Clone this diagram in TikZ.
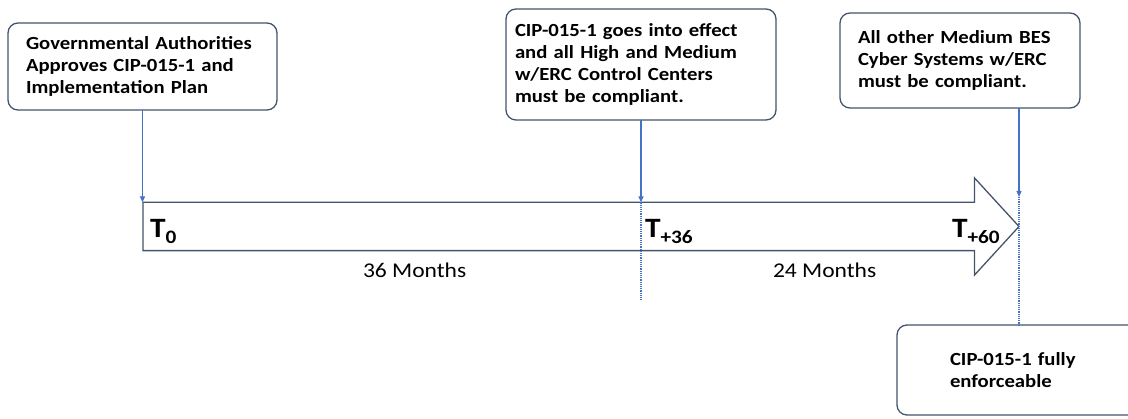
\documentclass[tikz,border=0pt]{standalone}
\usepackage{fontspec}
\setmainfont{Carlito}[FakeStretch=1.12]
\usepackage{tikz}
\usetikzlibrary{shapes,arrows.meta,positioning,calc}

\definecolor{boxline}{HTML}{44546A}
\definecolor{linkblue}{HTML}{4472C4}
\newcommand{\tmark}[1]{T\raisebox{-6pt}{\fontsize{19}{20}\selectfont #1}}

\begin{document}
\begin{tikzpicture}[x=1pt, y=-1pt, outer sep=0pt,
    event/.style={rectangle, rounded corners=10pt, draw=boxline, line width=1.3pt, align=left, anchor=west, font=\fontsize{18.5}{22}\selectfont\bfseries},
    link/.style={draw=linkblue, line width=1.2pt, -{Triangle[length=6pt,width=5pt]}},
    extend/.style={draw=linkblue, line width=1.2pt, densely dotted},
    tlabel/.style={anchor=base west, inner sep=0pt, font=\fontsize{28}{30}\selectfont\bfseries},
    span/.style={anchor=base west, inner sep=0pt, font=\fontsize{21}{24}\selectfont}]
        \useasboundingbox (0,0) rectangle (1128,419);

        \node (gov) [event, text width=233pt, inner xsep=18pt, minimum height=87pt] at (8,66.5) {Governmental Authorities\\Approves CIP-015-1 and\\Implementation Plan};
        \node (effect) [event, text width=252pt, inner xsep=9pt, minimum height=111pt] at (506,64.5) {CIP-015-1 goes into effect\\and all High and Medium\\w/ERC Control Centers\\must be compliant.};
        \node (other) [event, text width=204pt, inner xsep=18pt, minimum height=95pt] at (840,60.5) {All other Medium BES\\Cyber Systems w/ERC\\must be compliant.};
        \node (full) [event, text width=150pt, inner xsep=53pt, minimum height=90pt] at (897,370) {CIP-015-1 fully\\enforceable};

        \node (timeline) [single arrow, draw=boxline, line width=1.3pt, inner xsep=0pt, inner ysep=23.5pt, minimum height=876pt, single arrow head extend=24.5pt, single arrow head indent=0pt, single arrow tip angle=95, anchor=tail] at (143,226.5) {};

        \node (t0) [tlabel] at (150,238) {\tmark{0}};
        \node (t36) [tlabel] at (645,238) {\tmark{+36}};
        \node (t60) [tlabel] at (952,238) {\tmark{+60}};
        \node (m36) [span] at (363,278) {36 Months};
        \node (m24) [span] at (773,278) {24 Months};

        \coordinate (c60) at (1019,197);
        \path (effect.south) ++(0,180) coordinate (c36);

        \draw[link] (gov.south) -- (gov.south |- timeline.north);
        \draw[link] (effect.south) -- (effect.south |- timeline.north);
        \draw[extend] (effect.south |- timeline.north) -- (c36);
        \draw[link] (other.south -| c60) -- (c60);
        \draw[extend] (c60) -- (c60 |- full.north);
    \end{tikzpicture}
\end{document}
